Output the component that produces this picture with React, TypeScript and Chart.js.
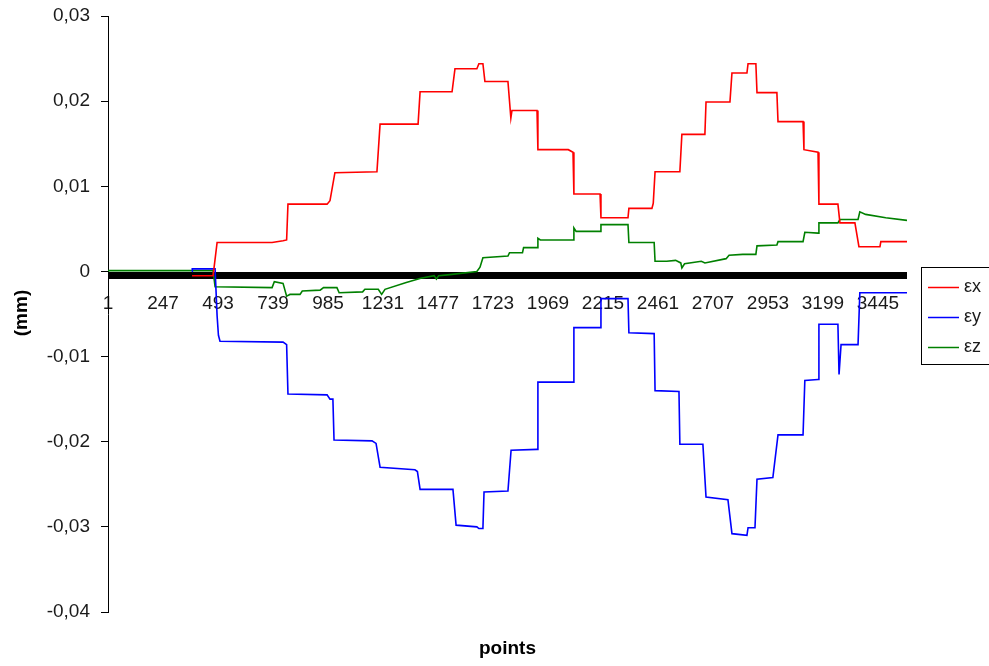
import React, { useEffect, useRef } from "react";
import { Chart, registerables } from "chart.js";

Chart.register(...registerables);

// X-axis category tick labels (every 246th point)
const xTickValues = [1, 247, 493, 739, 985, 1231, 1477, 1723, 1969, 2215, 2461, 2707, 2953, 3199, 3445];
const xMin = 1;
const xMax = 3575;
const yMin = -0.04;
const yMax = 0.03;
const yStep = 0.01;

const seriesNames = ["εx", "εy", "εz"];
const seriesColors = ["#FF0000", "#0000FF", "#008000"];

// εx
const exIdx = [377, 379, 471, 478, 489, 735, 784, 800, 806, 981, 994, 1016, 1204, 1218, 1388, 1397, 1540, 1553, 1651, 1660, 1678, 1687, 1790, 1803, 1808, 1920, 1924, 2060, 2081, 2085, 2202, 2206, 2327, 2331, 2434, 2440, 2448, 2559, 2568, 2671, 2676, 2783, 2792, 2859, 2864, 2899, 2904, 2993, 2998, 3110, 3114, 3177, 3181, 3266, 3275, 3342, 3360, 3454, 3458, 3575];
const exVal = [-0.0005, -0.0005, -0.0005, 0.001, 0.0034, 0.0034, 0.0036, 0.0037, 0.0079, 0.0079, 0.0083, 0.0116, 0.0117, 0.0173, 0.0173, 0.0211, 0.0211, 0.0238, 0.0238, 0.0244, 0.0244, 0.0223, 0.0223, 0.018, 0.0189, 0.0189, 0.0143, 0.0143, 0.014, 0.0091, 0.0091, 0.0063, 0.0063, 0.0074, 0.0074, 0.008, 0.0117, 0.0117, 0.0161, 0.0161, 0.0199, 0.0199, 0.0233, 0.0233, 0.0244, 0.0244, 0.021, 0.021, 0.0176, 0.0176, 0.0143, 0.014, 0.0079, 0.0079, 0.0057, 0.0057, 0.0029, 0.0029, 0.0035, 0.0035];

// εy
const eyIdx = [377, 378, 471, 480, 489, 495, 502, 784, 800, 806, 981, 994, 1007, 1012, 1182, 1200, 1218, 1374, 1385, 1397, 1544, 1558, 1651, 1660, 1678, 1683, 1790, 1804, 1920, 1924, 2081, 2085, 2202, 2206, 2327, 2331, 2444, 2448, 2555, 2559, 2662, 2676, 2774, 2792, 2859, 2864, 2895, 2904, 2975, 2998, 3110, 3118, 3177, 3181, 3266, 3271, 3280, 3356, 3364, 3575];
const eyVal = [0, 0.0003, 0.0003, 0.0003, -0.0052, -0.0075, -0.0082, -0.0083, -0.0086, -0.0144, -0.0145, -0.015, -0.015, -0.0198, -0.0199, -0.0202, -0.023, -0.0233, -0.0235, -0.0256, -0.0256, -0.0298, -0.03, -0.0302, -0.0302, -0.0259, -0.0258, -0.021, -0.0209, -0.013, -0.013, -0.0066, -0.0066, -0.0032, -0.0032, -0.0072, -0.0073, -0.014, -0.0141, -0.0203, -0.0203, -0.0265, -0.0268, -0.0308, -0.031, -0.0301, -0.0301, -0.0244, -0.0242, -0.0192, -0.0192, -0.0128, -0.0127, -0.0062, -0.0062, -0.0121, -0.0086, -0.0086, -0.0025, -0.0025];

// εz
const ezIdx = [1, 471, 480, 735, 745, 784, 800, 815, 860, 870, 950, 965, 1025, 1035, 1140, 1150, 1210, 1225, 1240, 1335, 1400, 1460, 1470, 1480, 1520, 1651, 1665, 1678, 1790, 1797, 1855, 1860, 1920, 1924, 1935, 2081, 2085, 2095, 2202, 2206, 2327, 2331, 2444, 2448, 2500, 2540, 2563, 2568, 2580, 2655, 2671, 2766, 2779, 2840, 2899, 2904, 2993, 2998, 3110, 3118, 3177, 3181, 3266, 3275, 3356, 3364, 3390, 3480, 3575];
const ezVal = [0.0001, 0.0001, -0.0018, -0.0019, -0.0012, -0.0014, -0.0029, -0.0027, -0.0027, -0.0023, -0.0022, -0.0019, -0.0019, -0.0025, -0.0024, -0.0021, -0.0021, -0.0027, -0.0021, -0.0013, -0.0008, -0.0005, -0.0009, -0.0005, -0.0004, 0, 0.0005, 0.0016, 0.0018, 0.0022, 0.0022, 0.0028, 0.0028, 0.0039, 0.0037, 0.0037, 0.0051, 0.0047, 0.0047, 0.0055, 0.0055, 0.0034, 0.0034, 0.0012, 0.0012, 0.0013, 0.001, 0.0004, 0.0009, 0.0012, 0.001, 0.0015, 0.0019, 0.002, 0.002, 0.003, 0.0031, 0.0035, 0.0035, 0.0046, 0.0045, 0.0057, 0.0057, 0.0061, 0.0061, 0.007, 0.0067, 0.0063, 0.006];

const yTitle = "(mm)";
const xTitle = "points";

const FONT = "'Liberation Sans', Arial, sans-serif";
const TEXT = "#1a1a1a";

function toPoints(idx: number[], val: number[]) {
  return idx.map((x, i) => ({ x, y: val[i] }));
}

const decorPlugin = {
  id: "decor",
  beforeDatasetsDraw(chart: any) {
    const { ctx, chartArea, scales } = chart;
    const y0 = scales.y.getPixelForValue(0);
    ctx.save();
    ctx.fillStyle = "#000";
    ctx.fillRect(chartArea.left, Math.round(y0) + 1, chartArea.right - chartArea.left, 7);
    ctx.restore();
  },
  afterDraw(chart: any) {
    const { ctx, chartArea } = chart;
    ctx.save();
    ctx.fillStyle = "#000";
    ctx.font = `bold 19px ${FONT}`;
    ctx.textAlign = "center";
    ctx.textBaseline = "middle";
    ctx.fillText(xTitle, (chartArea.left + chartArea.right) / 2, 649);
    ctx.translate(22, 313);
    ctx.rotate(-Math.PI / 2);
    ctx.fillText(yTitle, 0, 0);
    ctx.restore();

    // legend
    ctx.save();
    ctx.fillStyle = "#fff";
    ctx.fillRect(921, 267, 80, 97);
    ctx.strokeStyle = "#000";
    ctx.lineWidth = 1;
    ctx.strokeRect(921.5, 267.5, 80, 97);
    ctx.font = `18px ${FONT}`;
    ctx.textAlign = "left";
    ctx.textBaseline = "middle";
    seriesNames.forEach((name, i) => {
      const y = 287 + i * 30;
      ctx.strokeStyle = seriesColors[i];
      ctx.lineWidth = 1.5;
      ctx.beginPath();
      ctx.moveTo(928, y + 0.5);
      ctx.lineTo(959, y + 0.5);
      ctx.stroke();
      ctx.fillStyle = TEXT;
      ctx.fillText(name, 964, y);
    });
    ctx.restore();
  },
};

export default function App() {
  const canvasRef = useRef<HTMLCanvasElement | null>(null);

  useEffect(() => {
    document.body.style.margin = "0";
    const canvas = canvasRef.current;
    if (!canvas) return;
    const data = [toPoints(exIdx, exVal), toPoints(eyIdx, eyVal), toPoints(ezIdx, ezVal)];
    const chart = new Chart(canvas, {
      type: "line",
      data: {
        datasets: seriesNames.map((name, i) => ({
          label: name,
          data: data[i],
          borderColor: seriesColors[i],
          backgroundColor: seriesColors[i],
          borderWidth: 1.6,
          pointRadius: 0,
          tension: 0,
          fill: false,
        })),
      },
      options: {
        animation: false,
        responsive: false,
        devicePixelRatio: 1,
        parsing: false as any,
        layout: { padding: { top: 16, right: 82, bottom: 54, left: 0 } },
        plugins: {
          legend: { display: false },
          tooltip: { enabled: false },
        },
        scales: {
          x: {
            type: "linear",
            min: xMin,
            max: xMax,
            position: { y: 0 } as any,
            afterBuildTicks: (scale: any) => {
              scale.ticks = xTickValues.map((v) => ({ value: v }));
            },
            afterFit: (scale: any) => {
              scale.paddingTop = 0;
              scale.paddingBottom = 0;
              scale.paddingLeft = 0;
              scale.paddingRight = 0;
            },
            grid: {
              display: true,
              drawOnChartArea: false,
              drawTicks: true,
              tickLength: 21,
              tickColor: "rgba(0,0,0,0)",
            },
            border: { display: false },
            ticks: {
              autoSkip: false,
              maxRotation: 0,
              minRotation: 0,
              padding: 0,
              color: TEXT,
              font: { family: FONT, size: 19 },
              callback: (v: any) => String(v),
            },
          },
          y: {
            type: "linear",
            min: yMin,
            max: yMax,
            afterFit: (scale: any) => {
              scale.width = 108;
              scale.paddingTop = 0;
              scale.paddingBottom = 0;
            },
            grid: {
              display: true,
              drawOnChartArea: false,
              drawTicks: true,
              tickLength: 7,
              tickColor: "#000",
            },
            border: { display: true, color: "#000", width: 1 },
            ticks: {
              stepSize: yStep,
              padding: 11,
              color: TEXT,
              font: { family: FONT, size: 19 },
              callback: (v: any) => {
                const n = Number(v);
                if (Math.abs(n) < 1e-9) return "0";
                return n.toFixed(2).replace(".", ",");
              },
            },
          },
        },
      },
      plugins: [decorPlugin],
    });
    return () => chart.destroy();
  }, []);

  return (
    <div style={{ width: 989, height: 666, position: "relative", background: "#fff" }}>
      <canvas ref={canvasRef} width={989} height={666} style={{ display: "block" }} />
    </div>
  );
}
